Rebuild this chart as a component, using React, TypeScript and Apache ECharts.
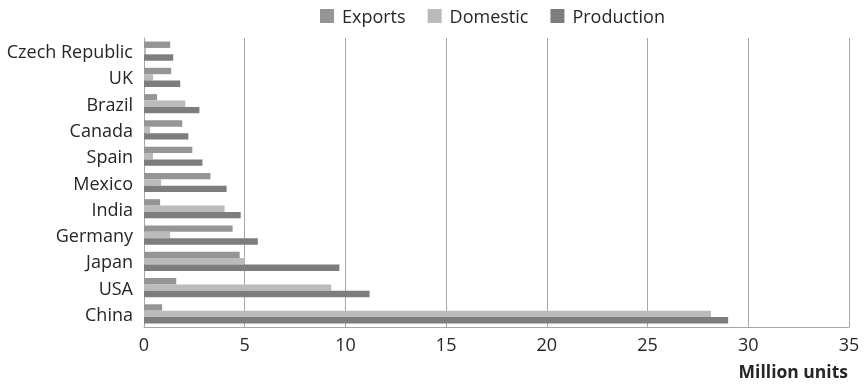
import React, { useEffect, useRef } from "react";
import * as echarts from "echarts";

const categories = ["China", "USA", "Japan", "Germany", "India", "Mexico", "Spain", "Canada", "Brazil", "UK", "Czech Republic"];
const exportsVals = [0.9, 1.6, 4.75, 4.4, 0.8, 3.3, 2.4, 1.9, 0.65, 1.35, 1.3];
const domesticVals = [28.15, 9.3, 5.0, 1.3, 4.0, 0.85, 0.45, 0.3, 2.05, 0.45, 0.1];
const productionVals = [29.0, 11.2, 9.7, 5.65, 4.8, 4.1, 2.9, 2.2, 2.75, 1.8, 1.45];
const xTicks = { min: 0, max: 35, interval: 5 };

const FONT = "'Open Sans', sans-serif";
const TEXT = "#262626";

export default function App() {
  const ref = useRef<HTMLDivElement>(null);
  useEffect(() => {
    const chart = echarts.init(ref.current!, undefined, { renderer: "svg" });
    chart.setOption({
      animation: false,
      textStyle: { fontFamily: FONT },
      legend: {
        data: ["Exports", "Domestic", "Production"],
        top: 2,
        left: 315,
        itemWidth: 14,
        itemHeight: 14,
        itemGap: 22,
        icon: "rect",
        textStyle: { fontSize: 18, color: TEXT, fontFamily: FONT, padding: [0, 0, 0, 3] },
      },
      grid: { left: 144, right: 15, top: 38, bottom: 57, containLabel: false },
      xAxis: {
        type: "value",
        min: xTicks.min,
        max: xTicks.max,
        interval: xTicks.interval,
        axisLine: { show: true, lineStyle: { color: "#a6a6a6", width: 1 } },
        axisTick: { show: false },
        axisLabel: { fontSize: 18, color: TEXT, margin: 8, fontFamily: FONT },
        splitLine: { show: true, lineStyle: { color: "#a6a6a6", width: 1 } },
      },
      yAxis: {
        type: "category",
        data: categories,
        axisLine: { show: true, lineStyle: { color: "#a6a6a6", width: 1 } },
        axisTick: { show: false },
        axisLabel: { fontSize: 18, color: TEXT, margin: 11, fontFamily: FONT },
      },
      series: [
        { name: "Exports", type: "bar", data: exportsVals, itemStyle: { color: "#959595" }, barGap: "0%", barCategoryGap: "27%" },
        { name: "Domestic", type: "bar", data: domesticVals, itemStyle: { color: "#bbbbbb" }, barGap: "0%", barCategoryGap: "27%" },
        { name: "Production", type: "bar", data: productionVals, itemStyle: { color: "#7d7d7f" }, barGap: "0%", barCategoryGap: "27%" },
      ],
      graphic: [
        {
          type: "text",
          right: 16,
          top: 362,
          style: { text: "Million units", fontSize: 17.5, fontWeight: "bold", fill: TEXT, fontFamily: FONT },
        },
      ],
    });
    return () => chart.dispose();
  }, []);
  return <div ref={ref} style={{ position: "fixed", left: 0, top: 0, width: 864, height: 384 }} />;
}
